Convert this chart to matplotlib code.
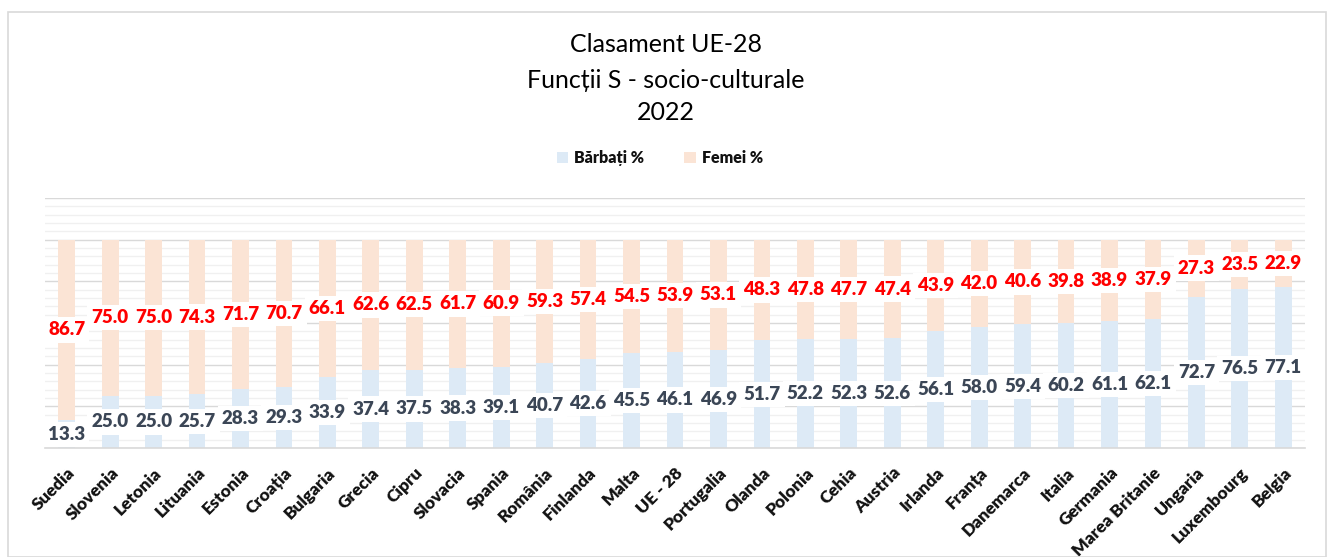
import matplotlib
matplotlib.use("Agg")
import matplotlib.pyplot as plt
from matplotlib.patches import Rectangle
from matplotlib.ticker import MultipleLocator

countries = ["Suedia", "Slovenia", "Letonia", "Lituania", "Estonia", "Croația", "Bulgaria",
             "Grecia", "Cipru", "Slovacia", "Spania", "România", "Finlanda", "Malta", "UE - 28",
             "Portugalia", "Olanda", "Polonia", "Cehia", "Austria", "Irlanda", "Franța",
             "Danemarca", "Italia", "Germania", "Marea Britanie", "Ungaria", "Luxembourg", "Belgia"]
barbati = [13.3, 25.0, 25.0, 25.7, 28.3, 29.3, 33.9, 37.4, 37.5, 38.3, 39.1, 40.7, 42.6, 45.5,
           46.1, 46.9, 51.7, 52.2, 52.3, 52.6, 56.1, 58.0, 59.4, 60.2, 61.1, 62.1, 72.7, 76.5, 77.1]
femei = [86.7, 75.0, 75.0, 74.3, 71.7, 70.7, 66.1, 62.6, 62.5, 61.7, 60.9, 59.3, 57.4, 54.5,
         53.9, 53.1, 48.3, 47.8, 47.7, 47.4, 43.9, 42.0, 40.6, 39.8, 38.9, 37.9, 27.3, 23.5, 22.9]

FONT = ["Lato", "DejaVu Sans"]
plt.rcParams['font.family'] = FONT

W, H = 1331, 557
fig = plt.figure(figsize=(W / 100, H / 100), dpi=100)
fig.patches.append(Rectangle((8 / W, 0), (1326 - 8) / W, (H - 12) / H, transform=fig.transFigure,
                             facecolor="none", edgecolor="#D9D9D9", linewidth=1.2))

ax = fig.add_axes([45 / W, (H - 448) / H, (1305 - 45) / W, (448 - 198) / H])
x = list(range(len(countries)))
c_b = "#DDEAF6"
c_f = "#FBE4D5"
ax.bar(x, barbati, width=0.385, color=c_b, zorder=2, label="Bărbați %")
ax.bar(x, femei, bottom=barbati, width=0.385, color=c_f, zorder=2, label="Femei %")

ax.set_xlim(-0.5, len(countries) - 0.5)
ax.set_ylim(0, 120)
ax.yaxis.set_major_locator(MultipleLocator(20))
ax.yaxis.set_minor_locator(MultipleLocator(4))
ax.grid(axis="y", which="major", color="#D9D9D9", linewidth=1.0, zorder=0)
ax.grid(axis="y", which="minor", color="#F0F0F0", linewidth=1.0, zorder=0)
ax.set_axisbelow(True)
for s in ["top", "right", "left"]:
    ax.spines[s].set_visible(False)
ax.spines["bottom"].set_color("#D9D9D9")
ax.spines["bottom"].set_linewidth(1.2)
ax.tick_params(axis="y", which="both", left=False, labelleft=False)
ax.tick_params(axis="x", length=0, pad=12)
ax.set_xticks(x)
ax.set_xticklabels(countries, rotation=45, ha="right", rotation_mode="anchor",
                   fontsize=12.5, fontweight="heavy", color="#111111")

for i in x:
    b = barbati[i]
    f = femei[i]
    ax.text(i, b / 2, f"{b:.1f}", ha="center", va="center", fontsize=13.5, fontweight="heavy",
            color="#3B4656", zorder=4,
            bbox=dict(facecolor="white", edgecolor="none", pad=3))
    ax.text(i, b + f / 2, f"{f:.1f}", ha="center", va="center", fontsize=13.5, fontweight="heavy",
            color="#FF0000", zorder=4,
            bbox=dict(facecolor="white", edgecolor="none", pad=3))

fig.text(0.5, 1 - 45 / H, "Clasament UE-28", ha="center", va="center", fontsize=18, color="#000000")
fig.text(0.5, 1 - 80 / H, "Funcții S - socio-culturale", ha="center", va="center", fontsize=18, color="#000000")
fig.text(0.5, 1 - 113 / H, "2022", ha="center", va="center", fontsize=18, color="#000000")

leg = fig.legend(loc="center", bbox_to_anchor=(660 / W, 1 - 158 / H), ncol=2, frameon=False,
                 prop={"size": 11.5, "weight": "heavy", "family": FONT},
                 handlelength=0.7, handleheight=0.7, columnspacing=2.5, handletextpad=0.4)
for t in leg.get_texts():
    t.set_color("#111111")

fig.savefig("out.png", dpi=100, facecolor="white")
